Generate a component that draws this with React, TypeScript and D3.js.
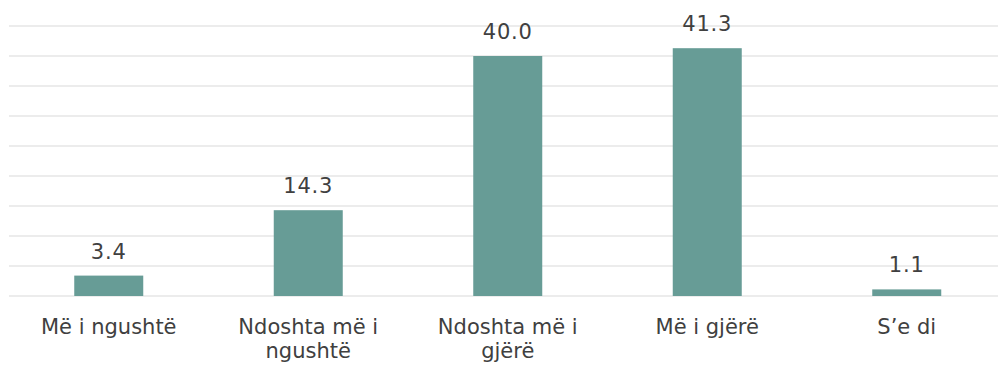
import React from "react";
import * as d3 from "d3";

const categories: string[][] = [
  ["Më i ngushtë"],
  ["Ndoshta më i", "ngushtë"],
  ["Ndoshta më i", "gjërë"],
  ["Më i gjërë"],
  ["S’e di"],
];
const values: number[] = [3.4, 14.3, 40.0, 41.3, 1.1];
const yTicks: number[] = [0, 5, 10, 15, 20, 25, 30, 35, 40, 45];

const W = 998;
const H = 365;

export default function App() {
  const x = d3
    .scaleBand<number>()
    .domain(values.map((_, i) => i))
    .range([9, 1006.5])
    .padding(0);
  const y = d3.scaleLinear().domain([0, 45]).range([296, 26]);
  const barW = 69;
  const font = "'DejaVu Sans', sans-serif";
  return (
    <svg
      width={W}
      height={H}
      style={{ position: "absolute", left: 0, top: 0 }}
      fontFamily={font}
    >
      <rect width={W} height={H} fill="#ffffff" />
      {yTicks.map((t) => (
        <line
          key={t}
          x1={9}
          x2={W}
          y1={y(t)}
          y2={y(t)}
          stroke="#D9D9D9"
          strokeWidth={1.2}
        />
      ))}
      {values.map((v, i) => {
        const cx = (x(i) as number) + x.bandwidth() / 2;
        return (
          <g key={i}>
            <rect
              x={cx - barW / 2}
              y={y(v)}
              width={barW}
              height={y(0) - y(v)}
              fill="#679C96"
            />
            <text
              x={cx}
              y={y(v) - 17}
              textAnchor="middle"
              fontSize={21}
              letterSpacing={0.8}
              fill="#404040"
            >
              {v.toFixed(1)}
            </text>
            {categories[i].map((line, j) => (
              <text
                key={j}
                x={cx}
                y={334 + j * 24}
                textAnchor="middle"
                fontSize={21}
                fill="#404040"
              >
                {line}
              </text>
            ))}
          </g>
        );
      })}
    </svg>
  );
}
